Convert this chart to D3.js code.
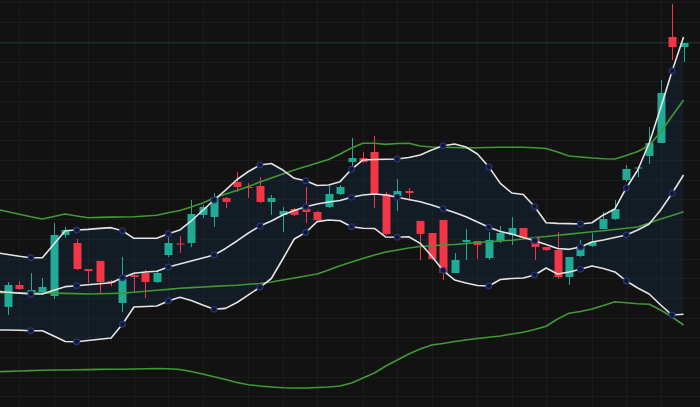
<!DOCTYPE html>
<html><head><meta charset="utf-8">
<script src="https://cdn.jsdelivr.net/npm/d3@7"></script>
<style>html,body{margin:0;padding:0;background:#121212;overflow:hidden}svg{display:block}</style>
</head><body><svg id="c" width="700" height="407"></svg>
<script>
// ---- candle data (60 sessions) ----
const opens  = [19.09,21.32,20.51,20.61,20.20,26.40,25.58,22.94,23.76,21.73,
                19.49,22.33,22.54,21.62,24.36,25.53,25.58,28.43,28.22,30.15,
                31.78,31.27,31.37,29.75,28.43,29.03,29.03,28.73,29.24,30.56,
                33.81,34.21,34.82,30.56,30.35,30.86,27.82,26.60,27.92,22.54,
                25.68,25.79,24.06,25.79,26.40,27.11,26.19,25.18,24.87,22.13,
                24.26,25.28,27.00,28.02,31.98,33.15,34.42,35.74,46.50,45.48];
const highs  = [21.62,21.73,22.54,22.03,27.61,27.21,25.99,22.94,23.76,21.83,
                24.16,22.64,22.84,22.84,26.50,26.29,29.95,29.44,30.66,30.25,
                32.79,31.67,32.28,30.46,29.24,29.14,31.27,28.83,31.37,31.47,
                36.24,34.82,36.45,30.76,32.08,31.17,27.82,26.60,27.92,24.57,
                27.00,25.79,26.70,27.31,28.22,27.11,26.19,25.18,26.70,24.16,
                25.89,26.60,28.73,29.95,33.50,33.40,37.36,42.13,49.85,45.89];
const lows   = [18.27,20.81,20.10,20.30,19.90,26.09,22.84,21.52,20.51,21.22,
                18.58,20.61,20.00,21.52,24.16,24.57,25.18,28.12,27.21,29.14,
                30.76,30.15,29.64,28.43,26.70,28.32,27.61,27.82,29.14,30.46,
                33.40,33.70,29.14,26.40,28.83,29.85,23.86,23.86,21.83,22.54,
                23.86,23.96,23.86,25.58,25.38,25.99,23.86,24.77,21.93,21.32,
                24.16,25.18,27.00,27.92,31.78,32.28,33.60,35.74,44.16,43.96];
const closes = [21.32,20.91,20.81,21.12,26.40,26.90,22.94,22.74,21.62,21.52,
                21.93,22.13,21.62,22.54,25.58,25.43,28.53,29.24,30.15,29.75,
                31.27,31.17,29.75,30.15,28.83,28.43,28.73,27.92,30.56,31.27,
                34.21,33.81,30.56,26.50,30.86,30.66,26.50,23.96,22.54,23.86,
                25.89,25.38,25.89,26.60,27.11,26.09,25.18,24.87,22.13,24.16,
                25.28,25.68,28.02,29.03,33.10,33.25,35.74,40.81,45.48,45.89];

// ---- indicator series (61 values: one prior session + 60 sessions) ----
const bandStart = -1;
const bbUpper  = [24.59,24.42,24.24,24.09,24.09,25.46,26.83,26.90,26.97,27.07,27.14,
                  26.83,26.06,26.06,26.06,26.53,26.90,27.82,28.88,29.95,30.96,
                  32.03,32.84,33.50,33.65,32.99,32.15,31.91,31.42,31.47,31.81,
                  33.07,34.01,34.06,34.09,34.11,34.26,34.52,35.03,35.46,35.63,
                  35.33,34.62,33.30,31.64,30.66,30.51,29.27,27.64,27.58,27.55,
                  27.51,27.64,28.43,29.04,31.17,32.99,35.74,39.29,43.05,46.50];
const bbMiddle = [20.67,20.58,20.49,20.41,20.41,20.78,21.15,21.25,21.35,21.45,21.55,
                  22.06,22.51,22.64,22.71,23.15,23.45,23.76,24.06,24.37,25.03,
                  25.79,26.60,27.31,27.82,28.43,28.88,29.27,29.54,29.75,29.90,
                  30.22,30.46,30.56,30.46,30.22,30.00,29.78,29.44,29.07,28.68,
                  28.25,27.72,27.18,26.75,26.50,26.14,25.82,25.43,25.03,24.94,
                  25.18,25.69,25.89,26.14,26.40,26.90,27.51,28.93,30.63,32.49];
const bbLower  = [16.75,16.75,16.72,16.68,16.68,16.14,15.58,15.56,15.69,15.81,15.94,
                  17.33,19.09,19.14,19.19,19.70,20.07,19.75,19.29,18.85,18.95,
                  19.54,20.31,21.09,21.98,23.96,25.99,26.65,27.75,27.92,27.85,
                  27.24,27.08,27.06,26.19,26.16,26.22,25.55,24.26,22.79,21.83,
                  21.52,21.27,21.22,21.88,21.98,22.03,22.34,23.05,22.44,22.64,
                  22.91,23.25,23.00,22.64,21.73,21.02,20.41,19.29,18.27,18.35];
const lbUpper  = [29.01,28.75,28.50,28.24,28.02,28.27,28.53,28.33,28.15,28.18,28.21,
                  28.23,28.25,28.33,28.40,28.66,28.88,29.24,29.64,30.15,30.56,
                  30.91,31.32,31.78,32.18,32.59,32.99,33.35,33.71,34.06,34.62,
                  35.23,35.71,35.71,35.60,35.69,35.71,35.43,35.33,35.30,35.28,
                  35.23,35.25,35.28,35.30,35.30,35.30,35.25,35.18,34.82,34.42,
                  34.31,34.21,34.14,34.11,34.47,34.87,35.48,36.85,38.48,40.10];
const lbMiddle = [20.55,20.53,20.52,20.51,20.50,20.49,20.47,20.44,20.41,20.43,20.46,
                  20.49,20.59,20.69,20.79,20.88,20.99,21.05,21.12,21.18,21.24,
                  21.30,21.39,21.47,21.62,21.83,22.03,22.23,22.44,22.84,23.28,
                  23.66,24.01,24.37,24.67,24.87,25.08,25.23,25.30,25.38,25.43,
                  25.53,25.63,25.71,25.79,25.87,25.99,26.14,26.24,26.37,26.48,
                  26.60,26.72,26.83,26.95,27.08,27.21,27.61,28.02,28.38,28.76];
const lbLower  = [12.51,12.55,12.59,12.63,12.67,12.69,12.69,12.71,12.73,12.75,12.76,
                  12.77,12.79,12.81,12.85,12.82,12.74,12.54,12.29,12.01,11.73,
                  11.42,11.20,11.07,10.97,10.89,10.86,10.86,10.91,10.97,11.07,
                  11.37,11.88,12.39,13.10,13.71,14.32,14.82,15.23,15.38,15.58,
                  15.74,15.89,16.01,16.14,16.35,16.53,16.80,17.13,17.87,18.45,
                  18.63,18.88,19.24,19.62,19.51,19.41,19.36,18.78,18.07,17.26];

// ---- grid ticks ----
const priceTicks = [10,12,14,16,18,20,22,24,26,28,30,32,34,36,38,40,42,44,46,48,50];
const timeTicks  = [1,4,7,11,14,17,21,24,27,31,34,37,41,44,47,51,54,57];
const markerEvery = 4, markerOffset = 2;

const W = 700, H = 407;
const svg = d3.select("#c");
const x = d3.scaleLinear().domain([0, 59]).range([8, 683.55]);
const y = d3.scaleLinear().domain([8.934, 50.253]).range([H, 0]);
const candleW = 8;
const UP = "#22ab94", DOWN = "#f23645";

svg.append("rect").attr("width", W).attr("height", H).attr("fill", "#121212");

// grid
const g = svg.append("g");
g.selectAll(".hg").data(priceTicks).join("line")
  .attr("x1", 0).attr("x2", W)
  .attr("y1", d => Math.round(y(d)) + 0.5).attr("y2", d => Math.round(y(d)) + 0.5)
  .attr("stroke", "#1c1c1c").attr("stroke-width", 1);
g.selectAll(".vg").data(timeTicks).join("line")
  .attr("y1", 0).attr("y2", H)
  .attr("x1", d => Math.round(x(d)) + 0.5).attr("x2", d => Math.round(x(d)) + 0.5)
  .attr("stroke", "#1c1c1c").attr("stroke-width", 1);

const idx = d3.range(bbUpper.length);
const bx = j => x(j + bandStart);

// band fill
svg.append("path").datum(idx)
  .attr("d", d3.area().x(bx).y0(j => y(bbLower[j])).y1(j => y(bbUpper[j])))
  .attr("fill", "rgb(22,52,82)").attr("fill-opacity", 0.28);

// last price line
const last = closes[closes.length - 1];
svg.append("line").attr("x1", 0).attr("x2", W)
  .attr("y1", y(last)).attr("y2", y(last))
  .attr("stroke", UP).attr("stroke-opacity", 0.22).attr("stroke-width", 1);

// candles
const cg = svg.append("g");
const ci = d3.range(opens.length);
cg.selectAll(".wick").data(ci).join("line")
  .attr("x1", i => Math.round(x(i)) + 0.5).attr("x2", i => Math.round(x(i)) + 0.5)
  .attr("y1", i => y(highs[i])).attr("y2", i => y(lows[i]))
  .attr("stroke", i => closes[i] >= opens[i] ? UP : DOWN).attr("stroke-width", 1);
cg.selectAll(".body").data(ci).join("rect")
  .attr("x", i => Math.round(x(i)) + 0.5 - candleW / 2)
  .attr("width", candleW)
  .attr("y", i => y(Math.max(opens[i], closes[i])))
  .attr("height", i => Math.max(1, Math.abs(y(opens[i]) - y(closes[i]))))
  .attr("fill", i => closes[i] >= opens[i] ? UP : DOWN);

// lines
const mk = arr => d3.line().x(bx).y(j => y(arr[j]));
[lbUpper, lbMiddle, lbLower].forEach(a => {
  svg.append("path").datum(idx).attr("d", mk(a))
    .attr("fill", "none").attr("stroke", "#3f9a35").attr("stroke-width", 1.6)
    .attr("stroke-linejoin", "round");
});
[bbUpper, bbMiddle, bbLower].forEach(a => {
  svg.append("path").datum(idx).attr("d", mk(a))
    .attr("fill", "none").attr("stroke", "#e4e4e4").attr("stroke-width", 1.6)
    .attr("stroke-linejoin", "round");
});

// markers
const mIdx = idx.filter(j => ((j + bandStart) % markerEvery + markerEvery) % markerEvery === markerOffset);
[bbUpper, bbMiddle, bbLower].forEach(a => {
  svg.append("g").selectAll("circle").data(mIdx).join("circle")
    .attr("cx", bx).attr("cy", j => y(a[j])).attr("r", 2.8)
    .attr("fill", "#0f1533").attr("stroke", "#28356f").attr("stroke-width", 1.3);
});
</script>
</body></html>
